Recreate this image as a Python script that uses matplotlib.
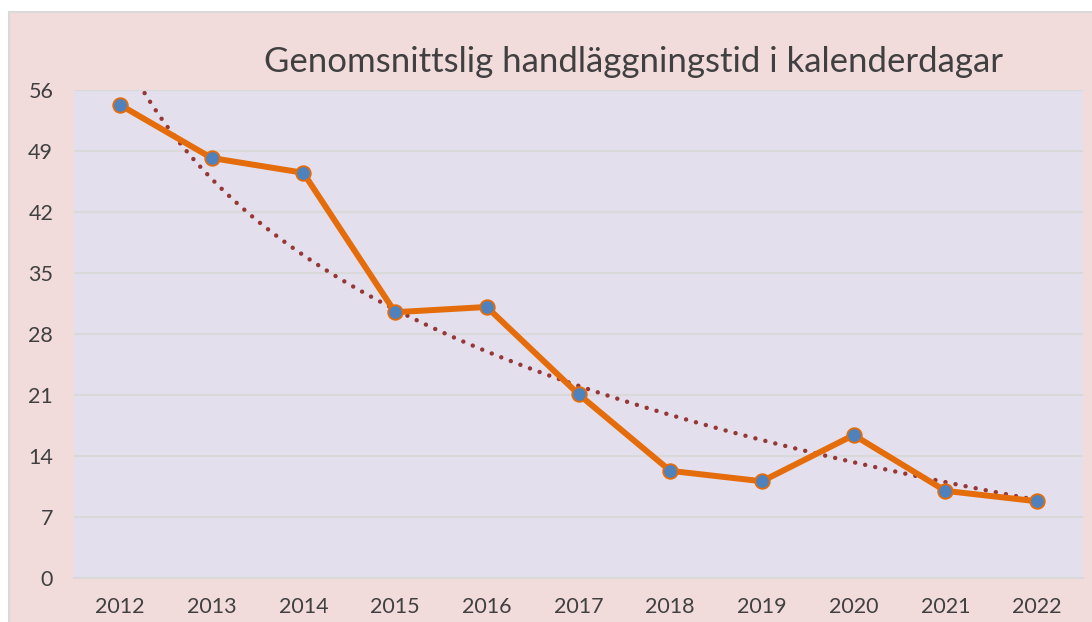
import matplotlib.pyplot as plt
from matplotlib.patches import Rectangle
import numpy as np

years = ['2012', '2013', '2014', '2015', '2016', '2017', '2018', '2019', '2020', '2021', '2022']
days = [54.3, 48.2, 46.5, 30.5, 31.1, 21.1, 12.3, 11.1, 16.4, 10.0, 8.8]
yticks = [0, 7, 14, 21, 28, 35, 42, 49, 56]
title = 'Genomsnittslig handläggningstid i kalenderdagar'

plt.rcParams['font.family'] = ['Lato', 'DejaVu Sans']

fig = plt.figure(figsize=(10.92, 6.22), dpi=100)
fig.patch.set_facecolor('white')

# pink chart area with thin grey border
fig.patches.append(Rectangle((9 / 1092, -0.05), 1.1, 1 - 12 / 622 + 0.05,
                             transform=fig.transFigure, facecolor='#F2DCDB',
                             edgecolor='#D9D9D9', linewidth=1.5, zorder=-5))

ax = fig.add_axes([74 / 1092, 44 / 622, 1009 / 1092, 488 / 622])
ax.set_facecolor('#E4DFEC')

x = np.arange(len(years))

# logarithmic trend line (like Excel)
lx = np.log(x + 1)
b, a = np.polyfit(lx, days, 1)
xt = np.linspace(0, len(years) - 1, 300)
ax.plot(xt, a + b * np.log(xt + 1), color='#953735', linewidth=3.2,
        linestyle=(0, (0.01, 2.3)), dash_capstyle='round', zorder=3)

ax.plot(x, days, color='#E46C0A', linewidth=4.3, solid_joinstyle='round',
        marker='o', markersize=10.5, markerfacecolor='#4F81BD',
        markeredgecolor='#E46C0A', markeredgewidth=1.3, zorder=4)

ax.set_xlim(-0.5, len(years) - 0.5)
ax.set_ylim(0, 56)
ax.set_yticks(yticks)
ax.set_xticks(x)
ax.set_xticklabels(years)
ax.grid(axis='y', color='#D9D9D9', linewidth=1.5)
ax.set_axisbelow(True)
for s in ['left', 'right', 'top']:
    ax.spines[s].set_visible(False)
ax.spines['bottom'].set_color('#D9D9D9')
ax.spines['bottom'].set_linewidth(1.5)
ax.tick_params(length=0, labelsize=15.5, colors='#404040')
ax.tick_params(axis='y', pad=15)
ax.tick_params(axis='x', pad=14)

fig.text(634 / 1092, 1 - 72 / 622, title, ha='center', va='baseline',
         fontsize=25, color='#404040')

fig.savefig('out.png', dpi=100)
